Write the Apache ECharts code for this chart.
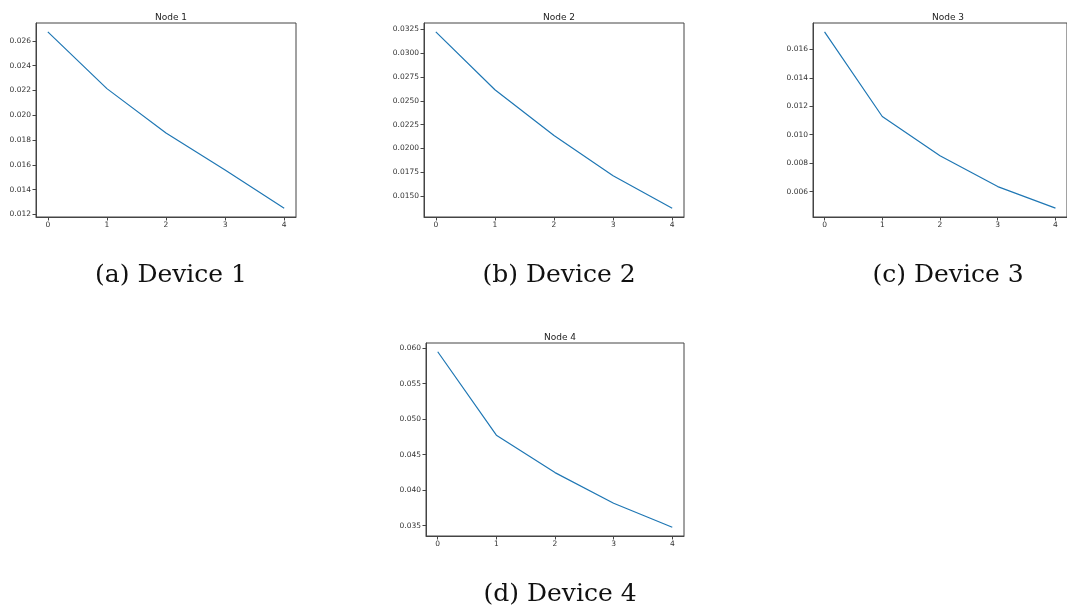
<!DOCTYPE html>
<html>
<head>
    <meta charset="utf-8">
    <script src="https://cdn.jsdelivr.net/npm/echarts@6/dist/echarts.min.js"></script>
    <style>
        html, body { margin: 0; padding: 0; background: #fff; }
    </style>
</head>
<body>
<div id="main" style="width: 1067px;height:611px;"></div>
<script type="text/javascript">
    // epochs on the x axis
    var xs = [0, 1, 2, 3, 4];

    // loss per node
    var node1 = [0.02673, 0.02215, 0.01858, 0.01559, 0.01251];
    var node2 = [0.03225, 0.02617, 0.02136, 0.01714, 0.01373];
    var node3 = [0.01724, 0.01128, 0.00852, 0.00635, 0.00483];
    var node4 = [0.05950, 0.04774, 0.04247, 0.03815, 0.03477];

    // y tick values
    var yTicks1 = [0.012, 0.014, 0.016, 0.018, 0.020, 0.022, 0.024, 0.026];
    var yTicks2 = [0.0150, 0.0175, 0.0200, 0.0225, 0.0250, 0.0275, 0.0300, 0.0325];
    var yTicks3 = [0.006, 0.008, 0.010, 0.012, 0.014, 0.016];
    var yTicks4 = [0.035, 0.040, 0.045, 0.050, 0.055, 0.060];

    var titles = ['Node 1', 'Node 2', 'Node 3', 'Node 4'];
    var captions = ['(a) Device 1', '(b) Device 2', '(c) Device 3', '(d) Device 4'];

    var series = [node1, node2, node3, node4];
    var ticks = [yTicks1, yTicks2, yTicks3, yTicks4];
    var decimals = [3, 4, 3, 3];

    // plot boxes (matplotlib axes), in pixels
    var boxes = [
        {left: 36, top: 23, width: 260, height: 194},
        {left: 424, top: 23, width: 260, height: 194},
        {left: 813, top: 23, width: 260, height: 194},
        {left: 426, top: 343, width: 258, height: 193}
    ];

    var myChart = echarts.init(document.getElementById('main'), null, {renderer: 'canvas'});

    var grid = [], xAxis = [], yAxis = [], ser = [], title = [];
    var tickFont = {fontSize: 7.5, color: '#333', fontFamily: 'DejaVu Sans'};

    series.forEach(function (vals, i) {
        var b = boxes[i];
        var lo = Math.min.apply(null, vals), hi = Math.max.apply(null, vals);
        var pad = (hi - lo) * 0.05;

        grid.push({
            left: b.left, top: b.top, width: b.width, height: b.height,
            show: true, borderColor: '#444', borderWidth: 1, backgroundColor: '#fff'
        });
        xAxis.push({
            type: 'value', gridIndex: i, min: -0.2, max: 4.2,
            axisLine: {show: true, onZero: false, lineStyle: {color: '#444', width: 1}},
            axisTick: {show: true, length: 3.5, customValues: xs, lineStyle: {color: '#444'}},
            axisLabel: Object.assign({customValues: xs, margin: 4}, tickFont),
            splitLine: {show: false}
        });
        yAxis.push({
            type: 'value', gridIndex: i, min: lo - pad, max: hi + pad, scale: true,
            axisLine: {show: true, onZero: false, lineStyle: {color: '#444', width: 1}},
            axisTick: {show: true, length: 3.5, customValues: ticks[i], lineStyle: {color: '#444'}},
            axisLabel: Object.assign({
                customValues: ticks[i], margin: 5,
                formatter: (function (d) { return function (v) { return v.toFixed(d); }; })(decimals[i])
            }, tickFont),
            splitLine: {show: false}
        });
        ser.push({
            type: 'line', xAxisIndex: i, yAxisIndex: i,
            data: xs.map(function (x, k) { return [x, vals[k]]; }),
            showSymbol: false, silent: true, animation: false,
            lineStyle: {color: '#1f77b4', width: 1.2}
        });
        title.push({
            text: titles[i], left: b.left + b.width / 2, top: b.top - 15, textAlign: 'center',
            textStyle: {fontSize: 9, fontWeight: 'normal', color: '#222', fontFamily: 'DejaVu Sans'}
        });
        title.push({
            text: captions[i], left: b.left + b.width / 2, top: b.top + b.height + 41, textAlign: 'center',
            textStyle: {fontSize: 25, fontWeight: 'normal', color: '#111', fontFamily: 'DejaVu Serif'}
        });
    });

    myChart.setOption({
        animation: false,
        title: title,
        grid: grid,
        xAxis: xAxis,
        yAxis: yAxis,
        series: ser
    });
</script>
</body>
</html>
